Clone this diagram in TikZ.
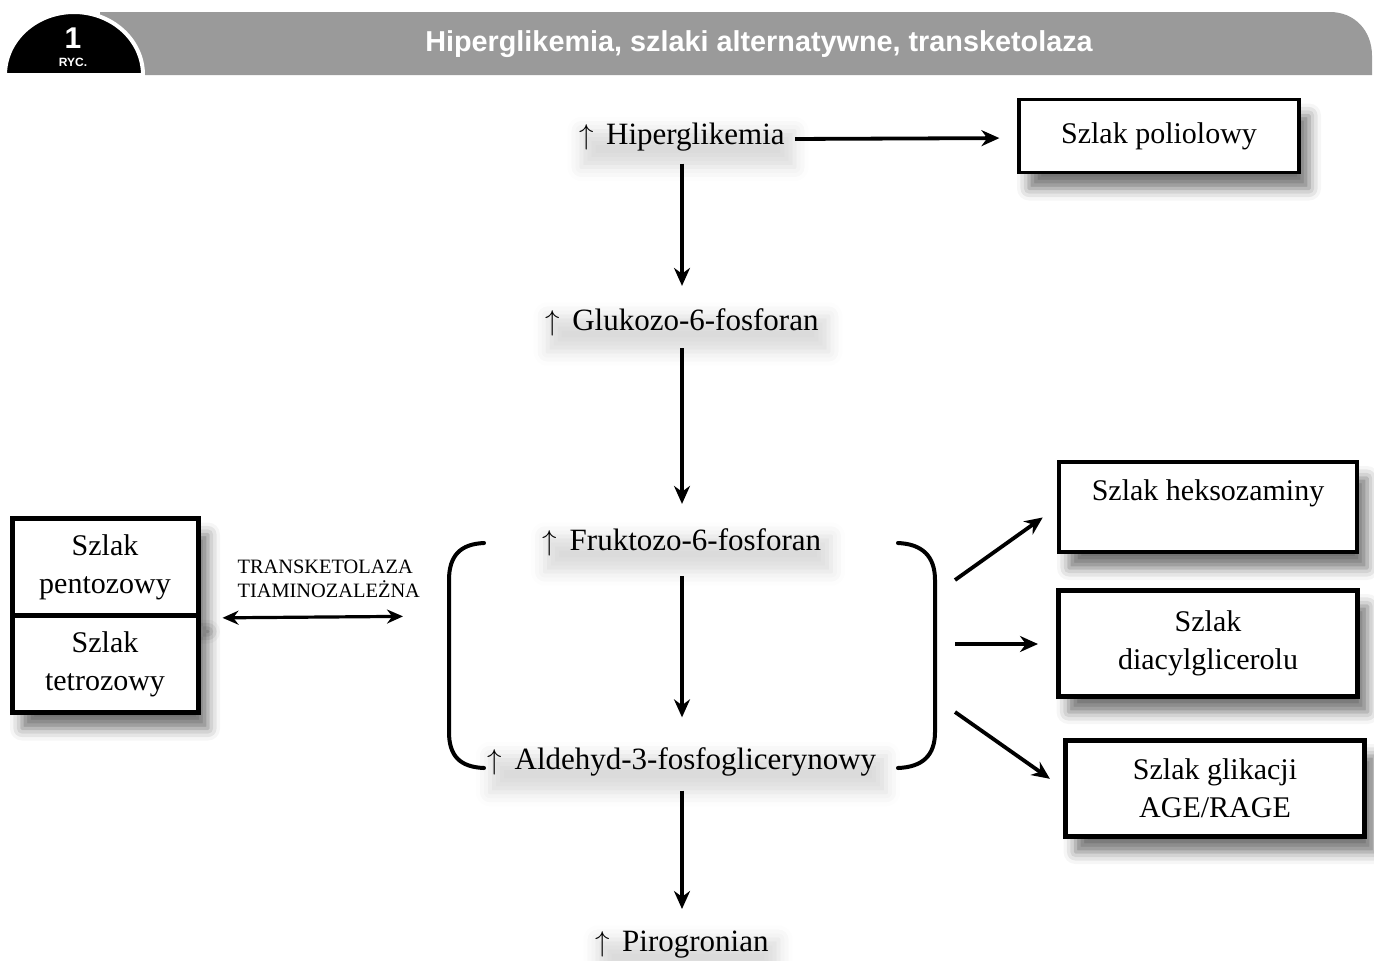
\documentclass[tikz,border=0pt]{standalone}
\usepackage{fontspec}
\setmainfont{Liberation Serif}
\newfontfamily\headfont{Liberation Sans}
\usepackage{tikz}
\usetikzlibrary{arrows.meta,positioning,shadows.blur}
\definecolor{bargray}{RGB}{154,154,154}
\newcommand{\up}{$\uparrow$\hspace{0.4em}}

\begin{document}
\begin{tikzpicture}[x=0.5pt, y=-0.5pt,
  txt/.style={inner sep=2pt, font=\fontsize{15.5}{19}\selectfont, align=center,
              blur shadow={shadow xshift=3pt, shadow yshift=-6pt,
                           shadow blur radius=7pt, shadow opacity=14}},
  box/.style={rectangle, draw=black, line width=1.6pt, fill=white,
              font=\fontsize{15}{19}\selectfont, align=center,
              blur shadow={shadow xshift=5pt, shadow yshift=-8pt,
                           shadow blur radius=6pt, shadow opacity=55}},
  tbox/.style={box, line width=2.5pt},
  arr/.style={-{Stealth[length=9pt, width=8pt]}, line width=1.9pt},
  darr/.style={{Stealth[length=8pt, width=7pt]}-{Stealth[length=8pt, width=7pt]}, line width=1.6pt},
  brk/.style={line width=2pt, line cap=round}
]
  \useasboundingbox (0,0) rectangle (1374,960);

  % header
  \fill[bargray] (100,75) -- (100,12) -- (1330,12) .. controls (1354,12) and (1372,30) .. (1372,56)
    -- (1372,75) -- cycle;
  \filldraw[fill=black, draw=white, line width=2pt]
    (5,75) .. controls (5,40) and (36,12) .. (74,12) .. controls (112,12) and (143,40) .. (143,75) -- cycle;
  \node[text=white, font=\headfont\bfseries\fontsize{15}{15}\selectfont] (nr) at (73,38) {1};
  \node[text=white, font=\headfont\bfseries\fontsize{6}{6}\selectfont] (ryc) at (73,62) {RYC.};
  \node[text=white, font=\headfont\bfseries\fontsize{14.4}{14.4}\selectfont] (title) at (759,44)
    {Hiperglikemia, szlaki alternatywne, transketolaza};

  % main chain
  \node[txt] (hip) at (682,137) {\up Hiperglikemia};
  \node[txt] (glu) at (682,322) {\up Glukozo-6-fosforan};
  \node[txt] (fru) at (682,542) {\up Fruktozo-6-fosforan};
  \node[txt] (ald) at (682,762) {\up Aldehyd-3-fosfoglicerynowy};
  \node[txt] (pir) at (682,945) {\up Pirogronian};

  \node[box, minimum width=140pt, minimum height=36.5pt] (poli) at (1159,136) {Szlak poliolowy};

  \draw[arr, shorten <=3pt, shorten >=9pt] ([yshift=-1pt]hip.east) -- ([yshift=-1pt]poli.west);
  \draw[arr, shorten <=4pt, shorten >=9pt] (hip) -- (glu);
  \draw[arr, shorten <=4pt, shorten >=10pt] (glu) -- (fru);
  \draw[arr, shorten <=8pt, shorten >=13pt] (fru) -- (ald);
  \draw[arr, shorten <=5pt, shorten >=9pt] (ald) -- (pir);

  % brackets
  \draw[brk] (484,543) .. controls (460,544) and (449,556) .. (449,580)
    -- (449,732) .. controls (449,756) and (460,767) .. (484,768);
  \draw[brk] (898,543) .. controls (922,544) and (935,556) .. (935,580)
    -- (935,732) .. controls (935,756) and (922,767) .. (898,768);
  \coordinate (lbr) at (449,616);
  \coordinate (rb1) at (955,580);
  \coordinate (rb2) at (955,644);
  \coordinate (rb3) at (955,712);

  % right pathways
  \node[box, minimum width=149pt, minimum height=45pt] (hek) at (1208,507) {Szlak heksozaminy\\[-2pt]\mbox{}};
  \node[tbox, minimum width=149.5pt, minimum height=53pt] (dia) at (1208,643) {Szlak\\diacylglicerolu};
  \node[tbox, minimum width=149.5pt, minimum height=48pt] (gli) at (1215,788) {Szlak glikacji\\AGE/RAGE};

  \draw[arr, shorten >=9pt] (rb1) -- (hek.west);
  \draw[arr, shorten >=9pt] (rb2) -- (rb2 -| dia.west);
  \draw[arr, shorten >=8pt] (rb3) -- (gli.west);

  % left pathways
  \node[tbox, minimum width=93pt, minimum height=48.5pt] (pent) at (105,567) {Szlak\\pentozowy};
  \node[tbox, minimum width=93pt, minimum height=48.5pt, below=-2.5pt of pent] (tetr) {Szlak\\tetrozowy};

  \draw[darr, shorten <=11pt, shorten >=23pt] (pent.south east) -- (lbr)
    node[midway, above=5.5pt, xshift=2pt, font=\fontsize{10.2}{12}\selectfont, align=left] (tkt)
    {TRANSKETOLAZA\\TIAMINOZALEŻNA};
\end{tikzpicture}
\end{document}
